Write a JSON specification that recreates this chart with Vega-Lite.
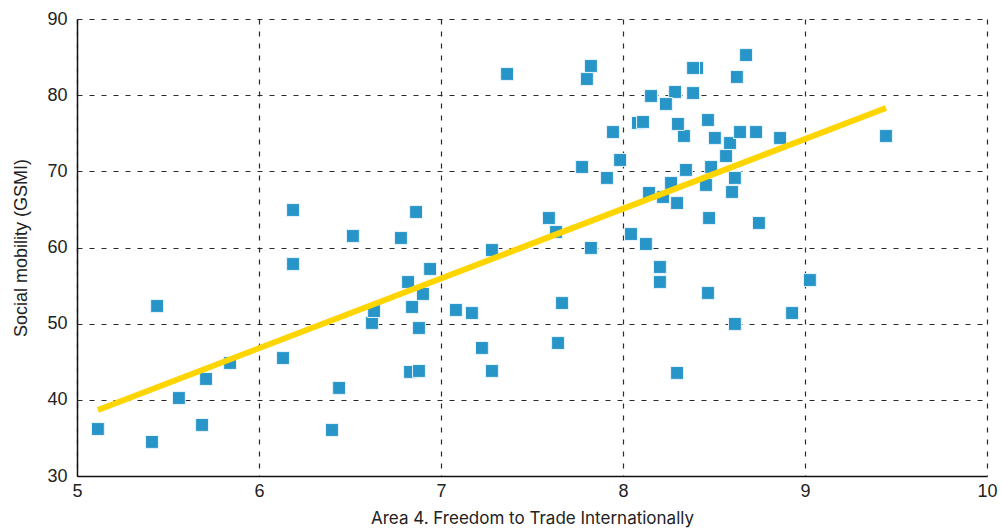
{
  "$schema": "https://vega.github.io/schema/vega-lite/v6.json",
  "width": 910,
  "height": 457,
  "autosize": {"type": "none"},
  "padding": {"left": 77, "top": 19, "right": 15, "bottom": 53},
  "background": "white",
  "config": {"view": {"stroke": null}},
  "datasets": {
    "points": [
      {"x": 6.621, "y": 50.09},
      {"x": 6.830, "y": 43.66},
      {"x": 7.824, "y": 83.83},
      {"x": 8.082, "y": 76.35},
      {"x": 8.286, "y": 80.42},
      {"x": 8.335, "y": 74.64},
      {"x": 8.407, "y": 83.57},
      {"x": 8.588, "y": 73.72},
      {"x": 8.599, "y": 67.29},
      {"x": 5.115, "y": 36.17},
      {"x": 5.412, "y": 34.47},
      {"x": 5.440, "y": 52.32},
      {"x": 5.560, "y": 40.24},
      {"x": 5.687, "y": 36.70},
      {"x": 5.709, "y": 42.74},
      {"x": 5.841, "y": 44.84},
      {"x": 6.132, "y": 45.49},
      {"x": 6.187, "y": 57.83},
      {"x": 6.187, "y": 64.92},
      {"x": 6.401, "y": 36.04},
      {"x": 6.440, "y": 41.56},
      {"x": 6.516, "y": 61.51},
      {"x": 6.632, "y": 51.66},
      {"x": 6.780, "y": 61.25},
      {"x": 6.819, "y": 55.47},
      {"x": 6.841, "y": 52.19},
      {"x": 6.863, "y": 64.66},
      {"x": 6.879, "y": 43.79},
      {"x": 6.879, "y": 49.43},
      {"x": 6.901, "y": 53.90},
      {"x": 6.940, "y": 57.18},
      {"x": 7.082, "y": 51.80},
      {"x": 7.170, "y": 51.40},
      {"x": 7.225, "y": 46.81},
      {"x": 7.280, "y": 59.67},
      {"x": 7.280, "y": 43.79},
      {"x": 7.363, "y": 82.78},
      {"x": 7.593, "y": 63.87},
      {"x": 7.632, "y": 62.04},
      {"x": 7.665, "y": 52.71},
      {"x": 7.643, "y": 47.46},
      {"x": 7.775, "y": 70.57},
      {"x": 7.802, "y": 82.12},
      {"x": 7.824, "y": 59.94},
      {"x": 7.912, "y": 69.13},
      {"x": 7.945, "y": 75.16},
      {"x": 7.984, "y": 71.49},
      {"x": 8.044, "y": 61.77},
      {"x": 8.110, "y": 76.48},
      {"x": 8.126, "y": 60.46},
      {"x": 8.154, "y": 79.89},
      {"x": 8.143, "y": 67.16},
      {"x": 8.203, "y": 57.44},
      {"x": 8.203, "y": 55.47},
      {"x": 8.220, "y": 66.63},
      {"x": 8.236, "y": 78.84},
      {"x": 8.264, "y": 68.47},
      {"x": 8.302, "y": 76.22},
      {"x": 8.297, "y": 65.84},
      {"x": 8.297, "y": 43.53},
      {"x": 8.346, "y": 70.18},
      {"x": 8.385, "y": 83.57},
      {"x": 8.385, "y": 80.28},
      {"x": 8.456, "y": 68.21},
      {"x": 8.467, "y": 76.74},
      {"x": 8.467, "y": 54.03},
      {"x": 8.473, "y": 63.87},
      {"x": 8.484, "y": 70.57},
      {"x": 8.505, "y": 74.38},
      {"x": 8.566, "y": 72.01},
      {"x": 8.615, "y": 69.13},
      {"x": 8.626, "y": 82.39},
      {"x": 8.615, "y": 49.96},
      {"x": 8.643, "y": 75.16},
      {"x": 8.676, "y": 85.27},
      {"x": 8.731, "y": 75.16},
      {"x": 8.747, "y": 63.22},
      {"x": 8.863, "y": 74.38},
      {"x": 8.929, "y": 51.40},
      {"x": 9.027, "y": 55.73},
      {"x": 9.445, "y": 74.64}
    ],
    "fit": [
      {"x": 5.115, "y": 38.67},
      {"x": 9.445, "y": 78.32}
    ]
  },
  "encoding": {
    "x": {
      "field": "x", "type": "quantitative",
      "scale": {"domain": [5, 10], "nice": false, "zero": false},
      "axis": {
        "values": [5, 6, 7, 8, 9, 10],
        "title": "Area 4. Freedom to Trade Internationally",
        "titleFont": "Inter", "titleFontSize": 17, "titleFontWeight": "normal", "titleColor": "#222",
        "titlePadding": 10,
        "labelFont": "Liberation Sans", "labelFontSize": 18, "labelColor": "#222", "labelPadding": 6,
        "labelFlush": false, "labelOverlap": false,
        "ticks": false,
        "domainColor": "#111", "domainWidth": 1.5,
        "grid": true, "gridDash": [5, 7], "gridColor": "#2a2a2a", "gridWidth": 1.2, "gridOpacity": 1
      }
    },
    "y": {
      "field": "y", "type": "quantitative",
      "scale": {"domain": [30, 90], "nice": false, "zero": false},
      "axis": {
        "values": [30, 40, 50, 60, 70, 80, 90],
        "title": "Social mobility (GSMI)",
        "titleFont": "Liberation Sans", "titleFontSize": 18, "titleFontWeight": "normal", "titleColor": "#222",
        "titlePadding": 16,
        "labelFont": "Liberation Sans", "labelFontSize": 18, "labelColor": "#222", "labelPadding": 10,
        "labelFlush": false, "labelOverlap": false,
        "ticks": false,
        "domainColor": "#111", "domainWidth": 1.5,
        "grid": true, "gridDash": [5, 7], "gridColor": "#2a2a2a", "gridWidth": 1.2, "gridOpacity": 1
      }
    }
  },
  "layer": [
    {
      "data": {"name": "points"},
      "mark": {"type": "square", "size": 165, "color": "#2795c8", "opacity": 1, "filled": true, "stroke": "#e8f4fb", "strokeWidth": 1}
    },
    {
      "data": {"name": "fit"},
      "mark": {"type": "line", "color": "#ffd500", "strokeWidth": 6}
    }
  ]
}
